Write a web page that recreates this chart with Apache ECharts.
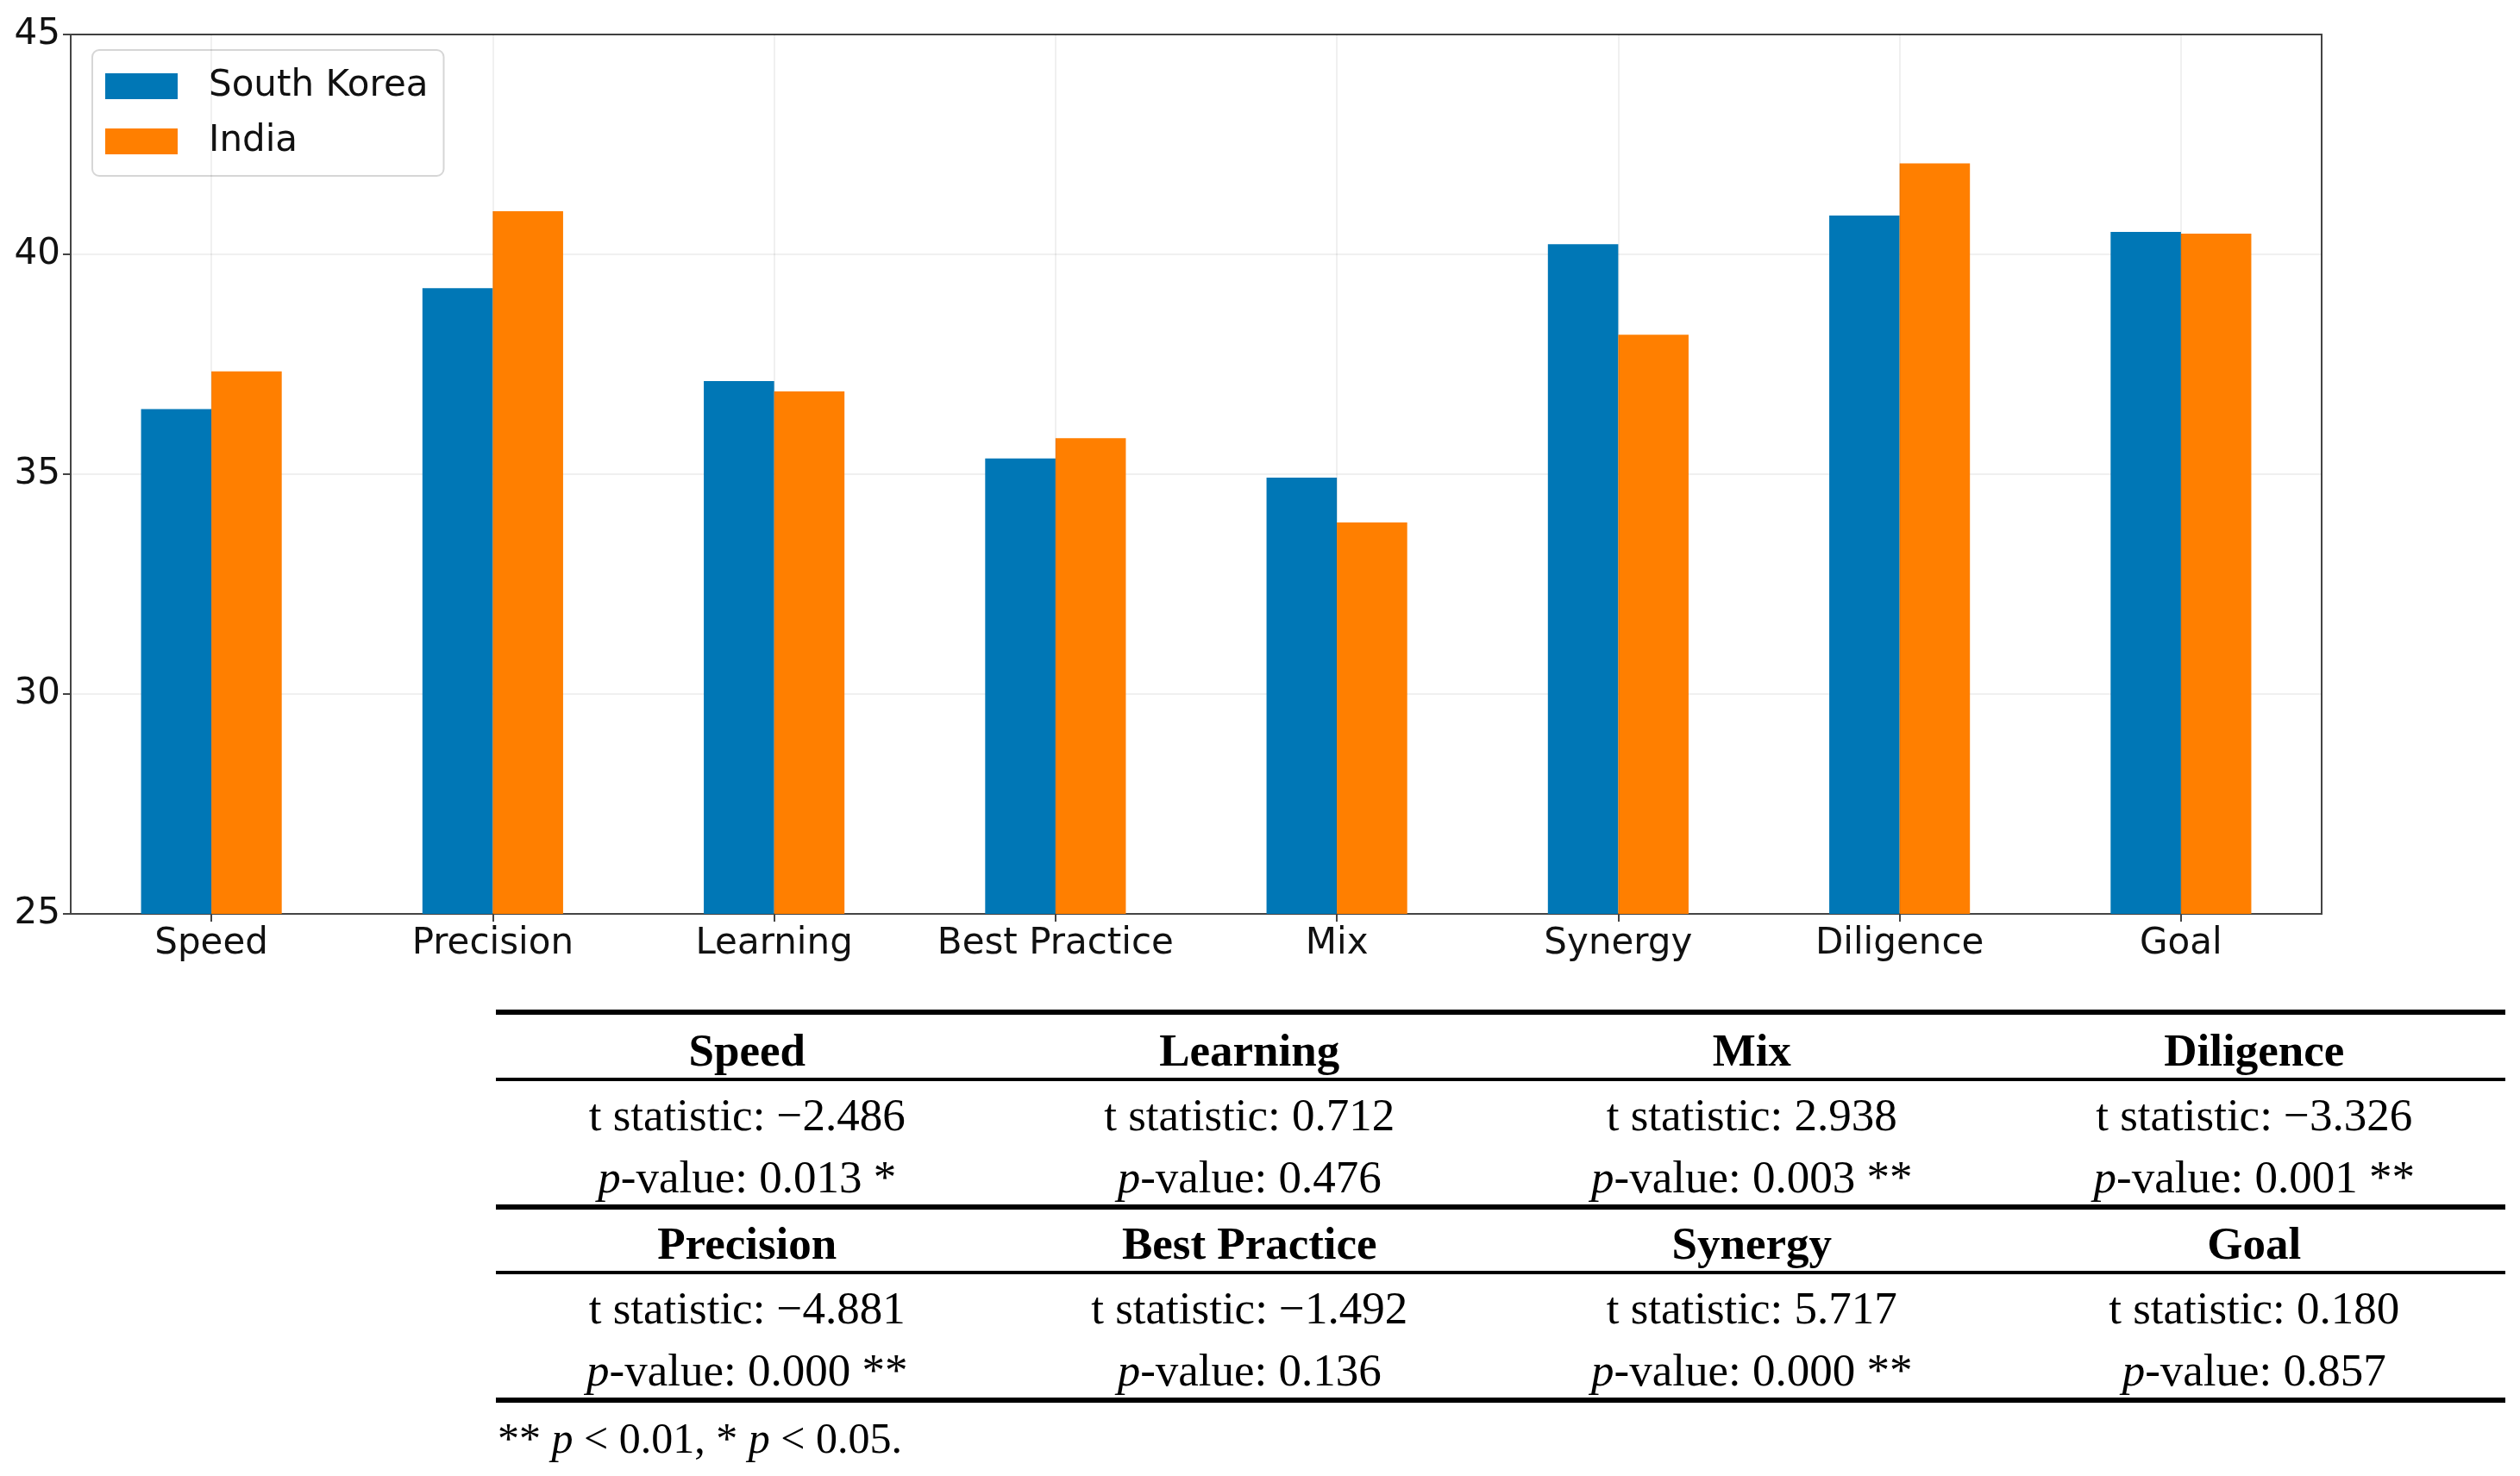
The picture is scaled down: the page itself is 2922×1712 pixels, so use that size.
<!DOCTYPE html>
<html>
<head>
<meta charset="utf-8">
<script src="https://cdn.jsdelivr.net/npm/echarts@6/dist/echarts.min.js"></script>
<style>
html,body{margin:0;padding:0;background:#fff;}
#chart{width:2922px;height:1712px;}
</style>
</head>
<body>
<div id="chart"></div>
<script>
// ---- data ----
const categories = ['Speed', 'Precision', 'Learning', 'Best Practice', 'Mix', 'Synergy', 'Diligence', 'Goal'];
const southKorea = [36.48, 39.23, 37.12, 35.36, 34.92, 40.23, 40.88, 40.51];
const india = [37.34, 40.98, 36.88, 35.82, 33.90, 38.17, 42.07, 40.47];
const yTicks = { min: 25, max: 45, interval: 5 };

const statNames = ['Speed', 'Learning', 'Mix', 'Diligence', 'Precision', 'Best Practice', 'Synergy', 'Goal'];
const tStats = ['\u22122.486', '0.712', '2.938', '\u22123.326', '\u22124.881', '\u22121.492', '5.717', '0.180'];
const pValues = ['0.013', '0.476', '0.003', '0.001', '0.000', '0.136', '0.000', '0.857'];
const pStars = ['*', '', '**', '**', '**', '', '**', ''];
const footnote = '** {i|p} < 0.01, * {i|p} < 0.05.';

// ---- table graphics ----
const serif = 'Liberation Serif';
const tblLeft = 575, tblRight = 2905, colW = (tblRight - tblLeft) / 4;
const blockTops = [1174, 1398];
const graphics = [];
function hline(y, w) {
  graphics.push({ type: 'line', silent: true, shape: { x1: tblLeft, y1: y, x2: tblRight, y2: y }, style: { stroke: '#000', lineWidth: w } });
}
hline(blockTops[0], 6);
blockTops.forEach((top, b) => {
  hline(top + 78, 4);
  hline(top + 226, 6);
  for (let c = 0; c < 4; c++) {
    const k = b * 4 + c;
    const cx = tblLeft + colW * (c + 0.5);
    graphics.push({ type: 'text', silent: true, style: { x: cx, y: top + 48, text: statNames[k], font: 'bold 53px "' + serif + '"', fill: '#000', align: 'center', verticalAlign: 'middle' } });
    graphics.push({ type: 'text', silent: true, style: { x: cx, y: top + 123, text: 't statistic: ' + tStats[k], font: '53px "' + serif + '"', fill: '#000', align: 'center', verticalAlign: 'middle' } });
    graphics.push({ type: 'text', silent: true, style: { x: cx, y: top + 195, text: '{i|p}-value: ' + pValues[k] + (pStars[k] ? ' ' + pStars[k] : ''), font: '53px "' + serif + '"', fill: '#000', align: 'center', verticalAlign: 'middle', rich: { i: { fontStyle: 'italic', fontFamily: serif, fontSize: 53, fill: '#000' } } } });
  }
});
graphics.push({ type: 'text', silent: true, style: { x: tblLeft + 2, y: 1672, text: footnote, font: '50px "' + serif + '"', fill: '#000', align: 'left', verticalAlign: 'middle', rich: { i: { fontStyle: 'italic', fontFamily: serif, fontSize: 50, fill: '#000' } } } });

const chart = echarts.init(document.getElementById('chart'), null, { renderer: 'canvas' });
const gridLineStyle = { color: 'rgba(0,0,0,0.06)', width: 2, type: 'solid' };
chart.setOption({
  animation: false,
  backgroundColor: '#fff',
  textStyle: { fontFamily: 'DejaVu Sans' },
  grid: { left: 82, top: 40, width: 2610, height: 1020, show: true, borderColor: '#444', borderWidth: 2, backgroundColor: 'transparent' },
  legend: {
    left: 107, top: 58, orient: 'vertical',
    backgroundColor: '#fff', borderColor: '#d6d6d6', borderWidth: 2, borderRadius: 8,
    padding: [21, 18, 19, 15],
    itemWidth: 84, itemHeight: 30, itemGap: 22,
    icon: 'rect',
    textStyle: { fontFamily: 'DejaVu Sans', fontSize: 42, color: '#111', lineHeight: 42, padding: [0, 0, 0, 31] },
    data: ['South Korea', 'India']
  },
  xAxis: {
    type: 'category', data: categories,
    axisLine: { lineStyle: { color: '#444', width: 2 } },
    axisTick: { show: true, alignWithLabel: true, interval: 0, length: 9, lineStyle: { color: '#444', width: 2 } },
    axisLabel: { fontFamily: 'DejaVu Sans', fontSize: 42, color: '#111', margin: 14, interval: 0 },
    splitLine: { show: false }
  },
  yAxis: {
    type: 'value', min: yTicks.min, max: yTicks.max, interval: yTicks.interval,
    axisLine: { show: true, lineStyle: { color: '#444', width: 2 } },
    axisTick: { show: true, length: 9, lineStyle: { color: '#444', width: 2 } },
    axisLabel: { fontFamily: 'DejaVu Sans', fontSize: 42, color: '#111', margin: 12 },
    splitLine: { show: true, lineStyle: gridLineStyle }
  },
  series: [
    { name: 'South Korea', type: 'bar', data: southKorea, barWidth: '25%', barGap: '0%', itemStyle: { color: '#0077B6' }, z: 2 },
    { name: 'India', type: 'bar', data: india, barWidth: '25%', barGap: '0%', itemStyle: { color: '#FF7F00' }, z: 2 },
    { name: 'vgrid', type: 'line', data: categories.map(() => null), showSymbol: false, silent: true, z: 5,
      lineStyle: { opacity: 0 },
      markLine: { silent: true, symbol: ['none', 'none'], label: { show: false }, lineStyle: gridLineStyle,
        data: categories.map(c => ({ xAxis: c })) } }
  ],
  graphic: graphics
});
</script>
</body>
</html>
